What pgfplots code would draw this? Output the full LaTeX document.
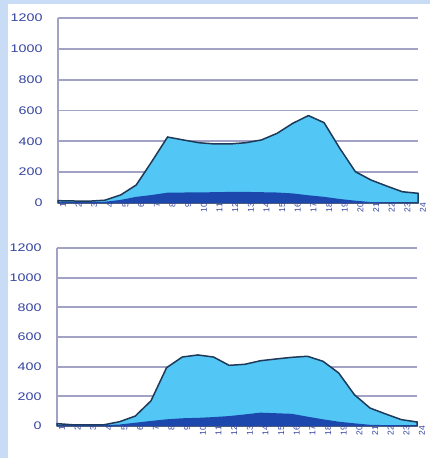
\documentclass[border=0pt]{standalone}
\usepackage{pgfplots}
\pgfplotsset{compat=1.18}
\usepackage{fontspec}
\setmainfont{Liberation Sans}
\newfontfamily\widefont[FakeStretch=1.3]{Liberation Sans}
\definecolor{bgblue}{HTML}{C9DCF6}
\definecolor{lightarea}{HTML}{52C6F4}
\definecolor{darkarea}{HTML}{1C48AE}
\definecolor{outline}{HTML}{1F3A58}
\definecolor{gridc}{HTML}{A2A3C4}
\definecolor{labc}{HTML}{3444A0}
\pgfplotsset{
  mystyle/.style={
    anchor=south west, scale only axis,
    xmin=1, xmax=24, ymin=0, ymax=1200,
    ytick={0,200,...,1200},
    xtick={1,...,24},
    axis x line=none,
    axis y line*=left,
    y axis line style={draw=gridc, line width=1.2pt, -},
    ymajorgrids, grid style={draw=gridc, line width=1.8pt},
    major tick length=0pt,
    /pgf/number format/assume math mode=true,
    /pgf/number format/1000 sep={},
    yticklabel style={font=\widefont\fontsize{11}{12}\selectfont, text=labc, anchor=east, xshift=-12pt},
    clip=false,
  }
}
\begin{document}
\begin{tikzpicture}[x=1pt,y=1pt]
\fill[bgblue] (0,0) rectangle (430,458);
\fill[white] (8,0) rectangle (430,454);
\useasboundingbox (0,0) rectangle (430,458);
\begin{axis}[mystyle, at={(58pt,255pt)}, width=360pt, height=185pt]
\addplot[fill=lightarea, draw=outline, line width=1.5pt] coordinates {
(1,15) (2,13) (3,12) (4,18) (5,52) (6,117) (7,270) (8,428) (9,409) (10,391) (11,383) (12,383)
(13,391) (14,409) (15,452) (16,517) (17,567) (18,521) (19,355) (20,203) (21,149) (22,110) (23,73) (24,63)
} \closedcycle;
\addplot[fill=darkarea, draw=none] coordinates {
(1,8) (2,6) (3,6) (4,8) (5,20) (6,40) (7,52) (8,67) (9,68) (10,69) (11,70) (12,72)
(13,72) (14,70) (15,68) (16,62) (17,50) (18,40) (19,26) (20,15) (21,6) (22,4) (23,3) (24,3)
} \closedcycle;
\foreach \i in {1,...,24}{
  \edef\tmp{\noexpand\node[rotate=90, anchor=east, font=\noexpand\fontsize{8.5}{9}\noexpand\selectfont, text=labc, inner sep=0pt, yshift=-5pt] at (axis cs:\i,0) {\i};}
  \tmp
}
\end{axis}
\begin{axis}[mystyle, at={(57pt,32pt)}, width=360pt, height=178pt]
\addplot[fill=lightarea, draw=outline, line width=1.5pt] coordinates {
(1,16) (2,8) (3,7) (4,8) (5,29) (6,67) (7,169) (8,393) (9,465) (10,479) (11,465) (12,409)
(13,416) (14,440) (15,452) (16,463) (17,470) (18,436) (19,357) (20,211) (21,121) (22,81) (23,43) (24,27)
} \closedcycle;
\addplot[fill=darkarea, draw=none] coordinates {
(1,5) (2,4) (3,4) (4,5) (5,10) (6,22) (7,34) (8,45) (9,52) (10,55) (11,60) (12,67)
(13,78) (14,90) (15,86) (16,82) (17,63) (18,45) (19,29) (20,18) (21,8) (22,6) (23,5) (24,5)
} \closedcycle;
\foreach \i in {1,...,24}{
  \edef\tmp{\noexpand\node[rotate=90, anchor=east, font=\noexpand\fontsize{8.5}{9}\noexpand\selectfont, text=labc, inner sep=0pt, yshift=-5pt] at (axis cs:\i,0) {\i};}
  \tmp
}
\end{axis}
\end{tikzpicture}
\end{document}
